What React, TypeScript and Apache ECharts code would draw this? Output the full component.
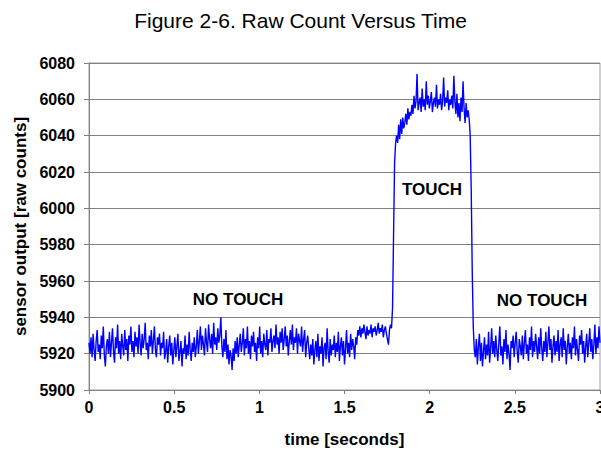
import React, { useEffect, useRef } from "react";
import * as echarts from "echarts";

const SAMPLE_PERIOD = 0.006; // seconds between samples
const X_TICKS = [0, 0.5, 1, 1.5, 2, 2.5, 3];
const Y_MIN = 5900;
const Y_MAX = 6080;
const Y_STEP = 20;

// no touch, 0 .. 1.776 s
const noTouchBefore = [
  5926,5920,5929,5918,5931,5922,5916,5927,5933,5921,5925,5917,5930,5923,5935,5919,5913,5924,5928,5920,
  5932,5918,5926,5934,5921,5915,5929,5923,5936,5920,5927,5917,5931,5924,5919,5933,5922,5928,5916,5930,
  5925,5935,5921,5927,5918,5932,5924,5929,5920,5936,5926,5919,5931,5923,5928,5937,5922,5926,5917,5930,
  5924,5933,5920,5927,5935,5922,5918,5929,5925,5931,5919,5926,5923,5932,5917,5921,5928,5915,5924,5930,
  5919,5926,5914,5922,5929,5918,5924,5931,5916,5921,5927,5913,5923,5920,5930,5917,5925,5919,5932,5922,
  5916,5926,5921,5929,5918,5924,5933,5920,5927,5935,5922,5930,5925,5919,5934,5926,5921,5936,5928,5923,
  5931,5920,5937,5925,5929,5922,5934,5926,5930,5940,5924,5918,5928,5921,5933,5917,5925,5914,5922,5919,
  5911,5923,5916,5927,5920,5929,5918,5925,5931,5921,5926,5934,5919,5928,5923,5935,5920,5927,5917,5930,
  5924,5932,5921,5926,5916,5929,5923,5935,5920,5927,5918,5931,5925,5922,5933,5919,5928,5926,5934,5921,
  5927,5930,5923,5936,5925,5929,5920,5932,5926,5934,5922,5928,5935,5924,5930,5919,5927,5933,5925,5936,
  5922,5929,5926,5934,5920,5931,5927,5924,5935,5921,5928,5933,5918,5926,5930,5923,5917,5925,5919,5928,
  5914,5922,5927,5918,5931,5916,5924,5920,5929,5913,5923,5926,5917,5934,5921,5915,5928,5919,5925,5922,
  5930,5918,5926,5921,5932,5916,5924,5929,5919,5927,5914,5923,5933,5920,5926,5918,5931,5922,5928,5924,
  5917,5929,5925,5933,5930,5935,5929,5934,5931,5936,5932,5928,5935,5930,5933,5931,5936,5929,5934,5932,
  5935,5930,5933,5937,5931,5934,5932,5936,5929,5933,5935,5931,5928,5925,5933,5936,5934,
];
// finger arrives
const rise = [5945, 5985, 6025, 6036];
// touch plateau
const touch = [
  6040,6036,6046,6038,6049,
  6041,6050,6044,6047,6052,
  6046,6055,6049,6053,6051,
  6057,6052,6062,6055,6059,6074,6054,6058,6061,6053,6066,6056,6060,6054,6070,6057,6062,6055,6059,6064,
  6053,6058,6061,6056,6068,6055,6060,6057,6063,6054,6059,6072,6056,6061,6058,6065,6054,6060,6057,6062,
  6055,6073,6059,6052,6063,6050,6058,6048,6061,6053,6070,
  6055,6047,6058,6050,6054,6049,
];
// finger leaves
const fall = [6040, 6010, 5965, 5935, 5922];
// no touch, 2.268 .. 3.0 s
const noTouchAfter = [
  5918,5928,5914,5924,5931,5916,5926,5913,5921,5929,5917,5925,5919,5932,5915,5923,5934,5920,5927,5918,
  5930,5922,5916,5926,5935,5919,5924,5914,5928,5921,5933,5917,5925,5920,5911,5927,5923,5930,5918,5926,
  5932,5921,5915,5928,5924,5919,5930,5917,5926,5933,5920,5925,5916,5929,5922,5935,5918,5927,5921,5931,
  5924,5917,5929,5920,5934,5923,5916,5927,5921,5932,5918,5926,5935,5922,5928,5915,5924,5930,5919,5927,
  5921,5933,5916,5925,5929,5918,5934,5922,5927,5914,5924,5931,5920,5926,5917,5929,5923,5935,5919,5928,
  5922,5916,5930,5925,5933,5920,5927,5915,5924,5931,5918,5926,5934,5921,5928,5917,5925,5936,5920,5929,
  5923,5935,5926,
];

const TITLE = "Figure 2-6. Raw Count Versus Time";
const X_NAME = "time [seconds]";
const Y_NAME = "sensor output [raw counts]";
const LABEL_NO_TOUCH = "NO TOUCH";
const LABEL_TOUCH = "TOUCH";

const counts = [...noTouchBefore, ...rise, ...touch, ...fall, ...noTouchAfter];
const seriesData = counts.map((v, i) => [+(i * SAMPLE_PERIOD).toFixed(3), v]);

const FONT = "Arial, 'Liberation Sans', sans-serif";

export default function App() {
  const ref = useRef<HTMLDivElement>(null);
  useEffect(() => {
    if (!ref.current) return;
    const chart = echarts.init(ref.current, undefined, { renderer: "svg" });
    const annot = (text: string, x: number, y: number) => ({
      type: "text",
      x,
      y,
      style: {
        text,
        fill: "#000",
        font: `bold 17px ${FONT}`,
        textAlign: "center",
        textVerticalAlign: "middle",
      },
      z: 10,
    });
    chart.setOption({
      animation: false,
      backgroundColor: "#fff",
      title: {
        text: TITLE,
        left: "center",
        top: 5,
        textStyle: { fontFamily: FONT, fontSize: 21, fontWeight: "normal", color: "#000" },
      },
      grid: {
        left: 89,
        right: 1,
        top: 63,
        bottom: 66,
        containLabel: false,
        outerBoundsMode: "none",
        show: true,
        borderColor: "#a0a0a0",
        borderWidth: 1,
        backgroundColor: "transparent",
      },
      xAxis: {
        type: "value",
        min: X_TICKS[0],
        max: X_TICKS[X_TICKS.length - 1],
        interval: 0.5,
        name: X_NAME,
        nameLocation: "middle",
        nameGap: 41,
        nameTextStyle: { fontFamily: FONT, fontSize: 17, fontWeight: "bold", color: "#000" },
        axisLine: { show: true, lineStyle: { color: "#808080", width: 1 } },
        axisTick: { show: true, length: 4, lineStyle: { color: "#808080" } },
        axisLabel: {
          margin: 9,
          fontFamily: FONT,
          fontSize: 16,
          fontWeight: "bold",
          color: "#000",
          formatter: (v: number) => String(v),
        },
        splitLine: { show: false },
      },
      yAxis: {
        type: "value",
        min: Y_MIN,
        max: Y_MAX,
        interval: Y_STEP,
        name: Y_NAME,
        nameLocation: "middle",
        nameGap: 60,
        nameTextStyle: { fontFamily: FONT, fontSize: 17, fontWeight: "bold", color: "#000" },
        axisLine: { show: true, lineStyle: { color: "#808080", width: 1 } },
        axisTick: { show: true, length: 5, lineStyle: { color: "#808080" } },
        axisLabel: {
          margin: 14,
          fontFamily: FONT,
          fontSize: 16,
          fontWeight: "bold",
          color: "#000",
          formatter: (v: number) => String(v),
        },
        splitLine: { show: true, lineStyle: { color: "#808080", width: 1 } },
      },
      series: [
        {
          type: "line",
          data: seriesData,
          showSymbol: false,
          symbol: "none",
          lineStyle: { color: "#0000ff", width: 1.4 },
          itemStyle: { color: "#0000ff" },
        },
      ],
      graphic: [
        annot(LABEL_NO_TOUCH, 238, 299),
        annot(LABEL_TOUCH, 432, 189),
        annot(LABEL_NO_TOUCH, 542, 300),
      ],
    });
    return () => chart.dispose();
  }, []);
  return (
    <div
      ref={ref}
      style={{ position: "fixed", left: 0, top: 0, width: 601, height: 456 }}
    />
  );
}
